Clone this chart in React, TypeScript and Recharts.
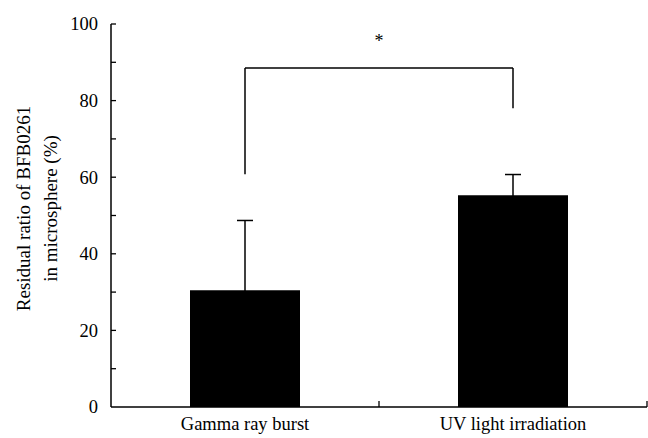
import { BarChart, Bar, XAxis, YAxis, ErrorBar, ReferenceLine } from "recharts"

const categories = ["Gamma ray burst", "UV light irradiation"]
const residual = [30.5, 55.3]
const errors = [18.2, 5.4]
const yTicks = [0, 10, 20, 30, 40, 50, 60, 70, 80, 90, 100]
const yLabelLines = ["Residual ratio of BFB0261", "in microsphere (%)"]

// significance bracket (in data units)
const bracketLeftBottom = 60.8
const bracketRightBottom = 78
const bracketTop = 88.5

const data = categories.map((name, i) => ({
  name,
  value: residual[i],
  err: errors[i],
}))

const FONT = "'Liberation Serif', 'Times New Roman', serif"
const textStyle = { fontFamily: FONT }

function YTick(props: any) {
  const { x, y, payload } = props
  const v = payload.value
  return (
    <g>
      {v !== 0 && (
        <line x1={x} y1={y} x2={x + 5} y2={y} stroke="#000" strokeWidth={1.3} />
      )}
      {v % 20 === 0 && (
        <text x={x - 13} y={y} dy="0.35em" textAnchor="end" fontSize={18.5} style={textStyle} fill="#000">
          {v}
        </text>
      )}
    </g>
  )
}

function XTick(props: any) {
  const { x, y, payload } = props
  const edge = x + (payload.offset || 0)
  return (
    <g>
      <line x1={edge} y1={y} x2={edge} y2={y - 6} stroke="#000" strokeWidth={1.3} />
      <text x={x} y={y + 17} dy="0.35em" textAnchor="middle" fontSize={18.5} style={textStyle} fill="#000">
        {payload.value}
      </text>
    </g>
  )
}

function YLabel(props: any) {
  const vb = props.viewBox
  const cy = vb.y + vb.height / 2 - 7
  const xs = [vb.x - 28, vb.x - 1]
  return (
    <g>
      {yLabelLines.map((t, i) => (
        <text
          key={t}
          x={xs[i]}
          y={cy}
          transform={`rotate(-90, ${xs[i]}, ${cy})`}
          textAnchor="middle"
          dy="0.35em"
          fontSize={19}
          style={textStyle}
          fill="#000"
        >
          {t}
        </text>
      ))}
    </g>
  )
}

export default function App() {
  return (
    <div style={{ position: "absolute", left: 0, top: 0, background: "#fff", fontFamily: FONT }}>
      <BarChart
        width={648}
        height={438}
        data={data}
        margin={{ top: 24, right: 1, bottom: 0, left: 51 }}
        barCategoryGap="29.5%"
      >
        <XAxis
          dataKey="name"
          height={31}
          tickSize={0}
          tickMargin={0}
          tickLine={false}
          axisLine={{ stroke: "#000", strokeWidth: 1.5 }}
          tick={<XTick />}
          interval={0}
        />
        <YAxis
          width={60}
          domain={[0, 100]}
          ticks={yTicks}
          interval={0}
          tickSize={0}
          tickMargin={0}
          tickLine={false}
          axisLine={{ stroke: "#000", strokeWidth: 1.5 }}
          tick={<YTick />}
          label={<YLabel />}
        />
        <Bar dataKey="value" fill="#000" barSize={110} isAnimationActive={false}>
          <ErrorBar dataKey="err" width={8} stroke="#000" strokeWidth={1.5} direction="y" />
        </Bar>
        <ReferenceLine
          segment={[
            { x: categories[0], y: bracketLeftBottom },
            { x: categories[0], y: bracketTop },
          ]}
          stroke="#000"
          strokeWidth={1.5}
        />
        <ReferenceLine
          segment={[
            { x: categories[1], y: bracketRightBottom },
            { x: categories[1], y: bracketTop },
          ]}
          stroke="#000"
          strokeWidth={1.5}
        />
        <ReferenceLine
          segment={[
            { x: categories[0], y: bracketTop },
            { x: categories[1], y: bracketTop },
          ]}
          stroke="#000"
          strokeWidth={1.5}
          label={{ value: "*", position: "top", offset: 21, fontSize: 18, fontFamily: FONT, fill: "#000" }}
        />
      </BarChart>
    </div>
  )
}
